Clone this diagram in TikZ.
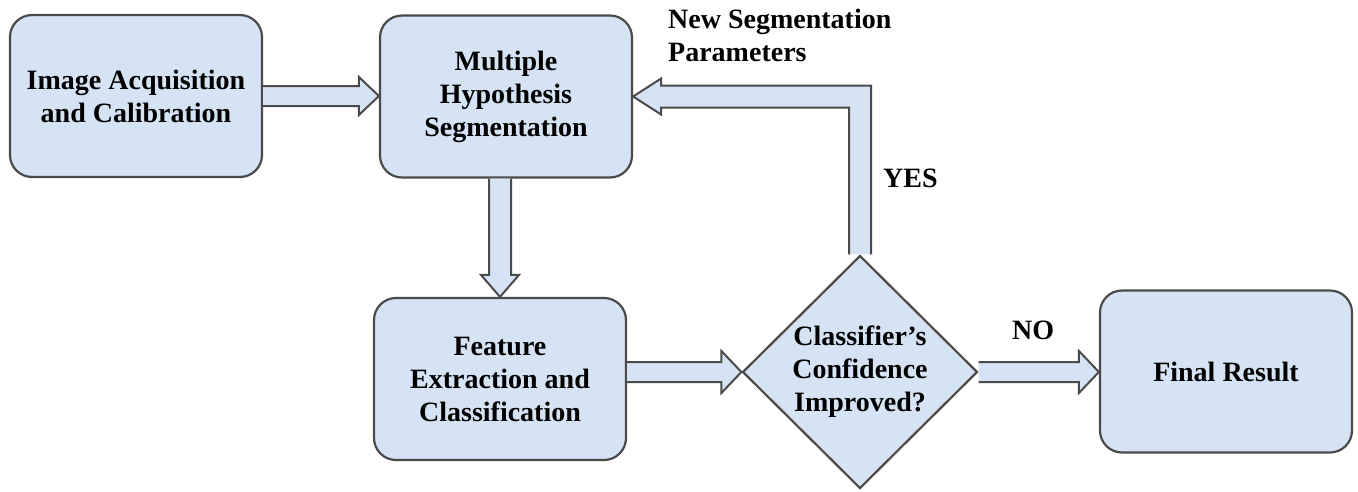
\documentclass[tikz,border=0pt]{standalone}
\usepackage{fontspec}
\setmainfont{Liberation Serif}
\usetikzlibrary{calc,shapes.geometric}
\definecolor{boxfill}{HTML}{D5E3F4}
\definecolor{linecol}{HTML}{4A4A4A}
\tikzset{
  box/.style={draw=linecol, fill=boxfill, line width=2.2pt, rounded corners=22pt,
    minimum width=252pt, minimum height=162pt, inner sep=0pt, align=center,
    font=\fontsize{28}{33}\selectfont\bfseries},
  dia/.style={draw=linecol, fill=boxfill, line width=2.2pt, diamond,
    minimum width=235pt, minimum height=233pt, inner sep=0pt},
  lbl/.style={inner sep=0pt, align=center, font=\fontsize{28}{33}\selectfont\bfseries},
  barrow/.style={fill=boxfill, draw=linecol, line width=2pt, line join=miter}
}
\begin{document}
\begin{tikzpicture}[x=1pt,y=-1pt]
\useasboundingbox (0,0) rectangle (1358,491);
\node[box] (a) at (136,96) {Image Acquisition\\and Calibration};
\node[box] (b) at (506,96.5) {Multiple\\Hypothesis\\Segmentation};
\node[box] (c) at (500,379) {Feature\\Extraction and\\Classification};
\node[dia] (d) at (860,372) {};
\node[lbl] (dt) at (d.center) {Classifier's\\Confidence\\Improved?};
\node[box] (e) at (1226,371.5) {Final Result};
\coordinate (corner) at (d.north |- b.east);
% a -> b
\path[barrow] ($(a.east)+(0,-10)$) -- ($(a.east -| b.west)+(-20,-10)$) -- ($(a.east -| b.west)+(-20,-19)$) -- (a.east -| b.west) -- ($(a.east -| b.west)+(-20,19)$) -- ($(a.east -| b.west)+(-20,10)$) -- ($(a.east)+(0,10)$);
% b -> c
\path[barrow] ($(b.south -| c.north)+(-11,0)$) -- ($(c.north)+(-11,-22)$) -- ($(c.north)+(-19,-22)$) -- (c.north) -- ($(c.north)+(19,-22)$) -- ($(c.north)+(11,-22)$) -- ($(b.south -| c.north)+(11,0)$);
% c -> d
\path[barrow] ($(c.east |- d.west)+(0,-10)$) -- ($(d.west)+(-20,-10)$) -- ($(d.west)+(-20,-21)$) -- (d.west) -- ($(d.west)+(-20,21)$) -- ($(d.west)+(-20,10)$) -- ($(c.east |- d.west)+(0,10)$);
% d -> e
\path[barrow] ($(d.east)+(0,-10)$) -- ($(d.east -| e.west)+(-20,-10)$) -- ($(d.east -| e.west)+(-20,-21)$) -- (d.east -| e.west) -- ($(d.east -| e.west)+(-20,21)$) -- ($(d.east -| e.west)+(-20,10)$) -- ($(d.east)+(0,10)$);
% d -> b (feedback)
\path[barrow] ($(d.north)+(-11,0)$) -- ($(corner)+(-11,11)$) -- ($(b.east)+(28,11)$) -- ($(b.east)+(28,18)$) -- (b.east) -- ($(b.east)+(28,-18)$) -- ($(b.east)+(28,-11)$) -- ($(corner)+(11,-11)$) -- ($(d.north)+(11,0)$);
\node[lbl, anchor=north west, align=left] (np) at (668,9) {New Segmentation\\Parameters};
\node[lbl, anchor=base west] (yes) at (883,187) {YES};
\node[lbl, anchor=base west] (no) at (1012,339) {NO};
\end{tikzpicture}
\end{document}
